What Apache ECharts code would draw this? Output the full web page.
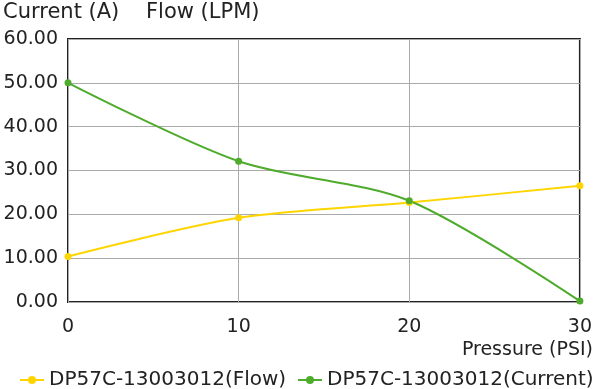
<!DOCTYPE html>
<html><head><meta charset="utf-8">
<script src="https://cdn.jsdelivr.net/npm/echarts@6/dist/echarts.min.js"></script>
<style>html,body{margin:0;padding:0;background:#fff}#c{width:595px;height:389px}</style>
</head><body><div id="c"></div>
<script>
const pressure = [0, 10, 20, 30];
const flow = [10.4, 19.2, 22.7, 26.5];
const current = [50.0, 32.1, 23.1, 0.2];
const xTicks = [0, 10, 20, 30];
const yTicks = [0, 10, 20, 30, 40, 50, 60];
const seriesNames = ['DP57C-13003012(Flow)', 'DP57C-13003012(Current)'];
const F = 'DejaVu Sans';
const legendBase = {top: 370, itemWidth: 24, itemHeight: 10, itemGap: 13, padding: 0,
  textStyle: {fontFamily: F, fontSize: 20, color: '#222'}};
const chart = echarts.init(document.getElementById('c'), null, {renderer: 'canvas'});
chart.setOption({
  animation: false,
  title: {text: 'Current (A)    Flow (LPM)', left: -2, top: -3,
    textStyle: {fontFamily: F, fontSize: 21, fontWeight: 'normal', color: '#222'}},
  grid: {left: 68, right: 14, top: 39, bottom: 87, show: true, borderColor: '#222', borderWidth: 2, containLabel: false},
  xAxis: {type: 'value', min: xTicks[0], max: xTicks[xTicks.length - 1], interval: 10,
    axisLine: {show: false}, axisTick: {show: false},
    axisLabel: {margin: 16, fontFamily: F, fontSize: 19, color: '#222'},
    splitLine: {show: true, lineStyle: {color: '#aaa', width: 1}}},
  yAxis: {type: 'value', min: yTicks[0], max: yTicks[yTicks.length - 1], interval: 10,
    axisLine: {show: false}, axisTick: {show: false},
    axisLabel: {margin: 10, fontFamily: F, fontSize: 19, color: '#222', formatter: v => v.toFixed(2)},
    splitLine: {show: true, lineStyle: {color: '#aaa', width: 1}}},
  graphic: [{type: 'text', right: 2, top: 341,
    style: {text: 'Pressure (PSI)', fontFamily: F, fontSize: 19, fill: '#222'}}],
  legend: [
    Object.assign({}, legendBase, {left: 19, data: [seriesNames[0]]}),
    Object.assign({}, legendBase, {left: 297, data: [seriesNames[1]]})
  ],
  series: [
    {name: seriesNames[0], type: 'line', smooth: 0.3, data: pressure.map((p, i) => [p, flow[i]]),
     symbol: 'circle', symbolSize: 7, lineStyle: {width: 2, color: '#FFD500'}, itemStyle: {color: '#FFD500'}},
    {name: seriesNames[1], type: 'line', smooth: 0.3, data: pressure.map((p, i) => [p, current[i]]),
     symbol: 'circle', symbolSize: 7, lineStyle: {width: 2, color: '#4FAB2C'}, itemStyle: {color: '#4FAB2C'}}
  ]
});
</script></body></html>
